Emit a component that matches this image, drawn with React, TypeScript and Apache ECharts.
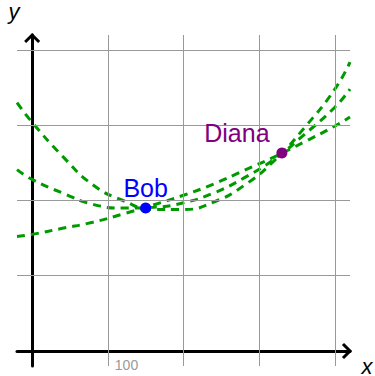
import React, { useEffect, useRef } from 'react';
import * as echarts from 'echarts';

// grid values and tick labels
const xGridValues = [100, 200, 300, 400];
const yGridValues = [100, 200, 300, 400];
const xTickLabels = [100];

// three dashed curves
const curveX = [-20, 0, 40, 80, 120, 160, 200, 240, 280, 320, 360, 400, 420];
const curveA = [330, 304, 259, 221, 200, 188, 188, 198, 220, 253, 297, 348, 384];
const curveB = [241, 228, 210, 195, 190, 191, 197, 210, 230, 255, 288, 324, 348];
const curveC = [152, 155, 163, 171, 182, 194, 207, 222, 240, 258, 278, 299, 311];

// labelled points
const people = ['Bob', 'Diana'];
const peopleX = [150, 330];
const peopleY = [190, 263];
const peopleColors = ['#0000ff', '#800080'];
const peopleLabelOffsetX = [0, -45];

const AXIS_MIN = -20;
const AXIS_MAX = 420;

export default function App() {
  const ref = useRef<HTMLDivElement>(null);

  useEffect(() => {
    if (!ref.current) return;
    const chart = echarts.init(ref.current, null, { renderer: 'svg' });
    const font = 'Liberation Sans, Arial, Helvetica, sans-serif';
    const curveStyle = { color: '#009a00', width: 3, type: [8, 6] as any };
    const mkCurve = (vals: number[]) => ({
      type: 'line',
      data: curveX.map((x, i) => [x, vals[i]]),
      smooth: true,
      showSymbol: false,
      silent: true,
      lineStyle: curveStyle,
      z: 3,
    });

    chart.setOption({
      animation: false,
      grid: {
        left: 17,
        right: 25,
        top: 35,
        bottom: 10,
        containLabel: false,
        outerBoundsMode: 'none',
      },
      xAxis: {
        type: 'value',
        min: AXIS_MIN,
        max: AXIS_MAX,
        axisLine: { show: true, onZero: true, lineStyle: { color: '#000', width: 3 } },
        axisTick: { show: false },
        splitLine: { show: false },
        axisLabel: {
          show: true,
          customValues: xTickLabels,
          color: '#999',
          fontSize: 14,
          fontFamily: font,
          align: 'left',
          margin: -8,
          padding: [0, 0, 0, 7],
        },
      },
      yAxis: {
        type: 'value',
        min: AXIS_MIN,
        max: AXIS_MAX,
        axisLine: { show: true, onZero: true, lineStyle: { color: '#000', width: 3 } },
        axisTick: { show: false },
        splitLine: { show: false },
        axisLabel: { show: false },
      },
      graphic: [
        {
          type: 'text',
          x: 14,
          y: 11,
          style: {
            text: 'y',
            font: 'italic 22px ' + font,
            fill: '#000',
            align: 'center',
            verticalAlign: 'middle',
          },
        },
        {
          type: 'text',
          x: 367,
          y: 366,
          style: {
            text: 'x',
            font: 'italic 22px ' + font,
            fill: '#000',
            align: 'center',
            verticalAlign: 'middle',
          },
        },
      ],
      series: [
        {
          type: 'line',
          data: [],
          silent: true,
          z: 1,
          markLine: {
            silent: true,
            symbol: 'none',
            label: { show: false },
            lineStyle: { color: '#999', width: 1, type: 'solid' },
            data: [
              ...xGridValues.map((v) => ({ xAxis: v })),
              ...yGridValues.map((v) => ({ yAxis: v })),
            ],
          },
        },
        mkCurve(curveA),
        mkCurve(curveB),
        mkCurve(curveC),
        {
          type: 'scatter',
          z: 5,
          symbolSize: 11,
          data: people.map((name, i) => ({
            name,
            value: [peopleX[i], peopleY[i]],
            itemStyle: { color: peopleColors[i], opacity: 1 },
            label: {
              show: true,
              formatter: name,
              position: 'top',
              distance: 2,
              offset: [peopleLabelOffsetX[i], 0],
              color: peopleColors[i],
              opacity: 1,
              fontSize: 25,
              fontFamily: font,
            },
          })),
        },
        {
          type: 'custom',
          z: 6,
          silent: true,
          data: [[0, 0]],
          renderItem: (params: any, api: any) => {
            const tx = api.coord([AXIS_MAX, 0]);
            const ty = api.coord([0, AXIS_MAX]);
            const a = 7;
            const style = { stroke: '#000', lineWidth: 3, fill: null };
            return {
              type: 'group',
              children: [
                {
                  type: 'polyline',
                  shape: { points: [[tx[0] - a, tx[1] - a], [tx[0], tx[1]], [tx[0] - a, tx[1] + a]] },
                  style,
                },
                {
                  type: 'polyline',
                  shape: { points: [[ty[0] - a, ty[1] + a], [ty[0], ty[1]], [ty[0] + a, ty[1] + a]] },
                  style,
                },
              ],
            };
          },
        },
      ],
    });
    return () => chart.dispose();
  }, []);

  return (
    <div
      ref={ref}
      style={{ position: 'absolute', left: 0, top: 0, width: 375, height: 376, background: '#fff' }}
    />
  );
}
